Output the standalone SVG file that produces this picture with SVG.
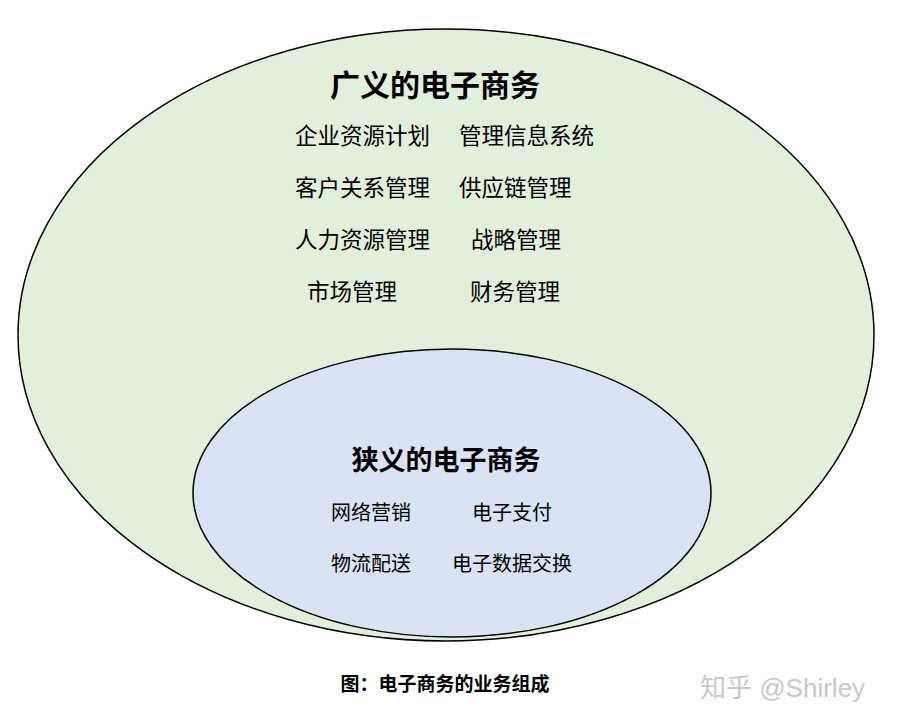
<svg xmlns="http://www.w3.org/2000/svg" width="899" height="728" viewBox="0 0 899 728">
<style>
text{font-family:"Liberation Sans","Noto Sans CJK SC",sans-serif;fill:#000}
.t{font-size:30px;font-weight:bold;text-anchor:middle}
.i{font-size:22.5px}
.s{font-size:20px}
.c{font-size:19px;font-weight:bold;text-anchor:middle}
</style>
<rect width="899" height="728" fill="#fff"/>
<g id="outer">
<ellipse cx="446" cy="335" rx="428" ry="306" fill="#e2efda" stroke="#000" stroke-width="1.5"/>
<text class="t" x="435" y="96">广义的电子商务</text>
<text class="i" x="295" y="144">企业资源计划</text>
<text class="i" x="459" y="144">管理信息系统</text>
<text class="i" x="295" y="196">客户关系管理</text>
<text class="i" x="459" y="196">供应链管理</text>
<text class="i" x="295" y="248">人力资源管理</text>
<text class="i" x="471" y="248">战略管理</text>
<text class="i" x="307" y="300">市场管理</text>
<text class="i" x="470" y="300">财务管理</text>
</g>
<g id="inner">
<ellipse cx="452" cy="493" rx="259" ry="144" fill="#dae3f3" stroke="#000" stroke-width="1.5"/>
<text class="t" x="446" y="470" style="font-size:27px">狭义的电子商务</text>
<text class="s" x="331" y="520">网络营销</text>
<text class="s" x="472" y="520">电子支付</text>
<text class="s" x="331" y="571">物流配送</text>
<text class="s" x="452" y="571">电子数据交换</text>
</g>
<g id="connectors"></g>
<text class="c" x="445" y="691">图：电子商务的业务组成</text>
<text x="700" y="697" style="font-size:26px;fill:#c8c8c8">知乎 @Shirley</text>
</svg>
